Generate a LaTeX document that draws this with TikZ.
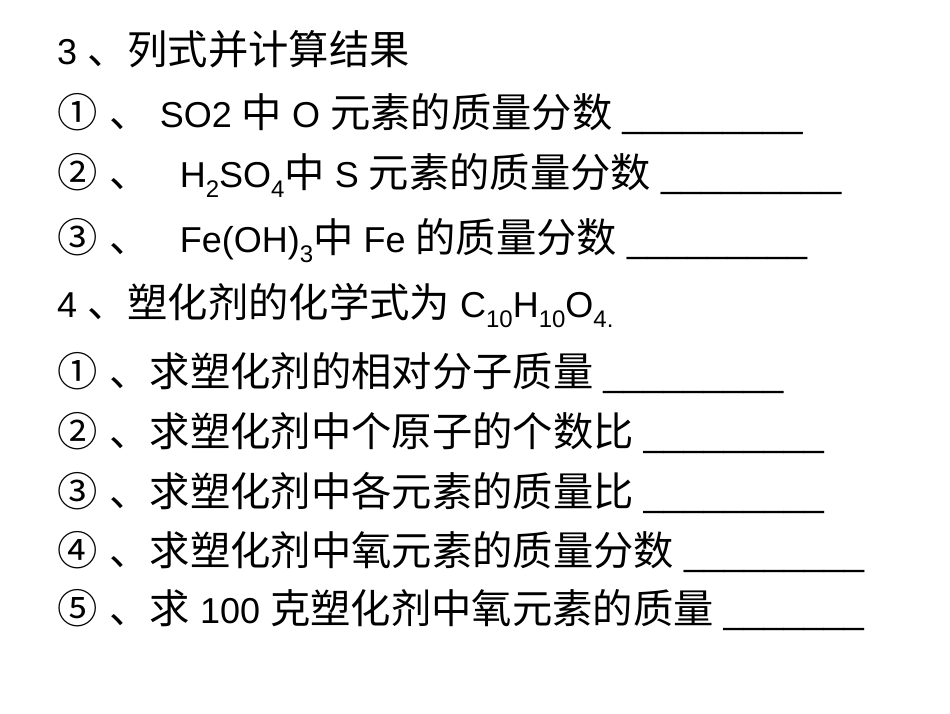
\documentclass[tikz,border=0pt]{standalone}
\usepackage{fontspec}
\setmainfont{Liberation Sans}
\newfontfamily\cjk[Scale=1.12]{Noto Sans CJK SC}
\newcommand\sbs[1]{\raisebox{-0.28em}{\fontsize{24}{24}\selectfont #1}}
\newcommand\cn[1]{{\cjk #1}\hspace{12pt}{\cjk 、}}
\begin{document}
\begin{tikzpicture}[x=1pt,y=-1pt,every node/.style={anchor=base west,inner sep=0pt,font=\fontsize{36}{36}\selectfont}]
\useasboundingbox (0,0) rectangle (950,713);
\node (l1) at (57,64) {3 {\cjk 、列式并计算结果}};
\node (l2) at (57,127) {\cn{①}\ SO2 {\cjk 中} O {\cjk 元素的质量分数} \_\_\_\_\_\_\_\_\_};
\node (l3) at (57,187) {\cn{②}\ \ \ H\sbs{2}SO\sbs{4}{\cjk 中} S {\cjk 元素的质量分数} \_\_\_\_\_\_\_\_\_};
\node (l4) at (57,252) {\cn{③}\ \ \ Fe(OH)\sbs{3}{\cjk 中} Fe {\cjk 的质量分数} \_\_\_\_\_\_\_\_\_};
\node (l5) at (57,317) {4 {\cjk 、塑化剂的化学式为} C\sbs{10}H\sbs{10}O\sbs{4.}};
\node (l6) at (57,386) {\cn{①}{\cjk 求塑化剂的相对分子质量} \_\_\_\_\_\_\_\_\_};
\node (l7) at (57,446) {\cn{②}{\cjk 求塑化剂中个原子的个数比} \_\_\_\_\_\_\_\_\_};
\node (l8) at (57,506) {\cn{③}{\cjk 求塑化剂中各元素的质量比} \_\_\_\_\_\_\_\_\_};
\node (l9) at (57,565) {\cn{④}{\cjk 求塑化剂中氧元素的质量分数} \_\_\_\_\_\_\_\_\_};
\node (l10) at (57,623) {\cn{⑤}{\cjk 求} 100 {\cjk 克塑化剂中氧元素的质量} \_\_\_\_\_\_\_};
\end{tikzpicture}
\end{document}
